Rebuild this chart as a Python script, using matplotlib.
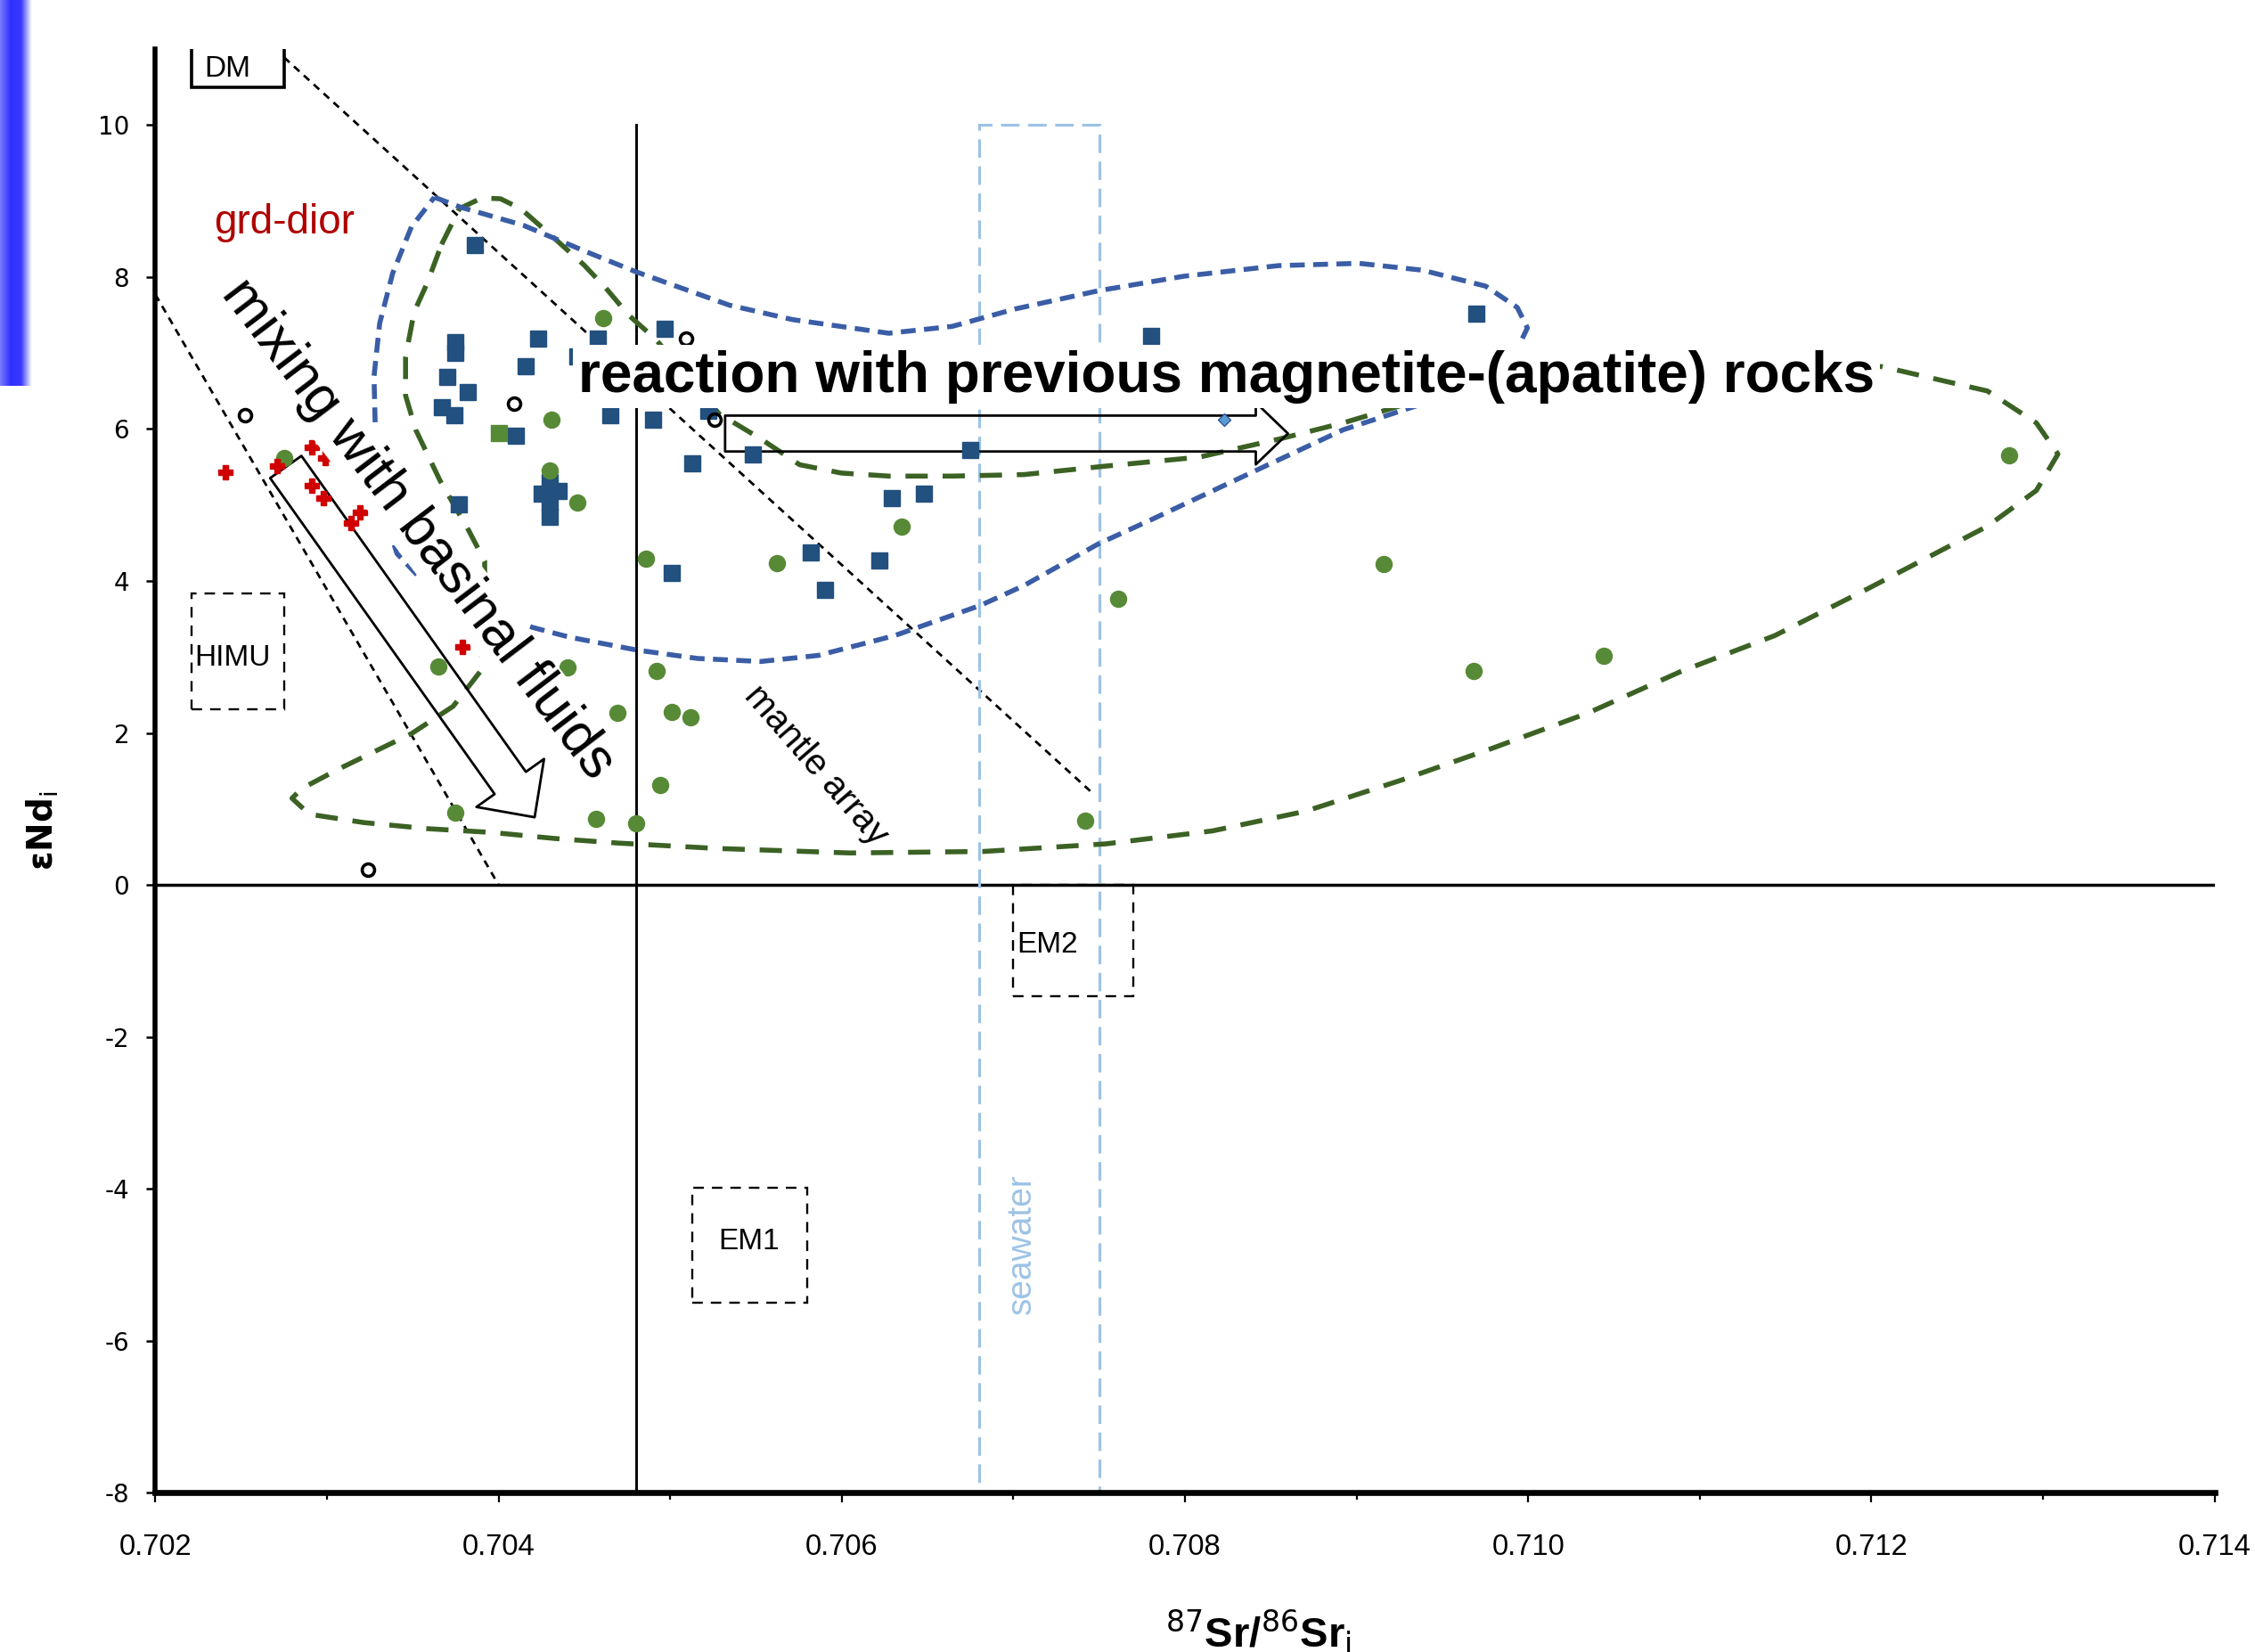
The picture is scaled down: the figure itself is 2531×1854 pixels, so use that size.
import numpy as np
import matplotlib
matplotlib.use("Agg")
import matplotlib.pyplot as plt
from matplotlib.patches import Rectangle, FancyArrowPatch, ArrowStyle
from matplotlib.colors import LinearSegmentedColormap

plt.rcParams["axes.unicode_minus"] = False

# ---- data ----
# blue squares
blue_x = [0.70386, 0.70375, 0.70375, 0.70370, 0.70382, 0.70367, 0.70374, 0.70410,
          0.70423, 0.70416, 0.70458, 0.70446, 0.70497, 0.70465, 0.70490, 0.70513,
          0.70377, 0.70425, 0.70430, 0.70435, 0.70430, 0.70430, 0.70501, 0.70522,
          0.70548, 0.70675, 0.70629, 0.70648, 0.70582, 0.70622, 0.70590, 0.70780,
          0.70970]
blue_y = [8.42, 7.14, 7.00, 6.68, 6.49, 6.29, 6.18, 5.91,
          7.19, 6.83, 7.19, 6.96, 7.32, 6.18, 6.12, 5.55,
          5.01, 5.15, 5.30, 5.18, 5.03, 4.84, 4.10, 6.24,
          5.66, 5.72, 5.09, 5.15, 4.38, 4.27, 3.88, 7.23,
          7.52]

# green circles
green_x = [0.70461, 0.70431, 0.70430, 0.70446, 0.70486, 0.70275, 0.70365, 0.70440,
           0.70492, 0.70469, 0.70501, 0.70512, 0.70494, 0.70457, 0.70480, 0.70375,
           0.70562, 0.70635, 0.70742, 0.70761, 0.70916, 0.70968, 0.71044, 0.71280]
green_y = [7.46, 6.12, 5.45, 5.03, 4.29, 5.62, 2.87, 2.86,
           2.81, 2.27, 2.28, 2.20, 1.31, 0.87, 0.81, 0.95,
           4.23, 4.72, 0.84, 3.77, 4.22, 2.81, 3.01, 5.65]

green_sq_x = [0.70400]
green_sq_y = [5.95]

# red crosses (grd-dior)
red_x = [0.70241, 0.70271, 0.70291, 0.70299, 0.70291, 0.70298, 0.70319, 0.70314, 0.70379]
red_y = [5.43, 5.51, 5.76, 5.62, 5.26, 5.09, 4.90, 4.76, 3.13]

# open circles
open_x = [0.70252, 0.70409, 0.70509, 0.70526, 0.70324]
open_y = [6.18, 6.33, 7.19, 6.12, 0.20]

diamond_x = [0.70823]
diamond_y = [6.12]

# envelope outlines
blue_env_x = [0.703626, 0.703777, 0.704145, 0.704514, 0.704799, 0.705344, 0.705712,
              0.706274, 0.706643, 0.707011, 0.707497, 0.707992, 0.708545, 0.709014,
              0.709383, 0.709752, 0.709936, 0.709995, 0.709936, 0.709726, 0.709383,
              0.708922, 0.708419, 0.707807, 0.707497, 0.707062, 0.706810, 0.706307,
              0.705863, 0.705528, 0.705159, 0.704807, 0.704413, 0.704196, 0.703860,
              0.703525, 0.703408, 0.703341, 0.703299, 0.703282, 0.703274, 0.703307,
              0.703383, 0.703492, 0.703626]
blue_env_y = [9.05, 8.92, 8.68, 8.33, 8.07, 7.63, 7.44, 7.26, 7.35, 7.58, 7.82, 8.01,
              8.15, 8.18, 8.09, 7.88, 7.60, 7.33, 7.05, 6.69, 6.33, 5.99, 5.46, 4.81,
              4.49, 3.94, 3.68, 3.28, 3.02, 2.94, 2.98, 3.09, 3.26, 3.39, 3.68, 4.08,
              4.36, 4.83, 5.40, 5.97, 6.69, 7.39, 8.05, 8.66, 9.05]

green_env_x = [0.703668, 0.703772, 0.703902, 0.704011, 0.704129, 0.704330, 0.704497,
               0.704623, 0.704757, 0.704916, 0.705101, 0.705285, 0.705528, 0.705754,
               0.705997, 0.706274, 0.706643, 0.707062, 0.707531, 0.708084, 0.708553,
               0.708922, 0.709291, 0.709894, 0.710732, 0.711570, 0.712064, 0.712676,
               0.712961, 0.713087, 0.712961, 0.712676, 0.711981, 0.711436, 0.710891,
               0.710346, 0.709793, 0.709249, 0.708704, 0.708159, 0.707539, 0.706827,
               0.706048, 0.705268, 0.704698, 0.704330, 0.703961, 0.703584, 0.703215,
               0.702897, 0.702796, 0.702855, 0.703064, 0.703291, 0.703492, 0.703735,
               0.703894, 0.703919, 0.703919, 0.703827, 0.703659, 0.703517, 0.703458,
               0.703458, 0.703508, 0.703584, 0.703668]
green_env_y = [8.43, 8.90, 9.04, 9.03, 8.90, 8.50, 8.16, 7.86, 7.50, 7.18,
               6.69, 6.20, 5.87, 5.53, 5.42, 5.38, 5.38, 5.40, 5.51, 5.63,
               5.87, 6.08, 6.33, 6.57, 6.76, 6.86, 6.82, 6.50, 6.08, 5.67,
               5.19, 4.72, 3.90, 3.28, 2.81, 2.26, 1.80, 1.37, 0.97, 0.71,
               0.54, 0.44, 0.42, 0.48, 0.55, 0.61, 0.69, 0.74, 0.82, 0.93,
               1.14, 1.27, 1.52, 1.77, 1.99, 2.35, 2.81, 3.51, 4.26, 4.66,
               5.32, 5.99, 6.44, 6.95, 7.54, 7.92, 8.43]

# reference lines
mantle1_x = [0.70275, 0.70746]
mantle1_y = [10.89, 1.21]
mantle2_x = [0.70200, 0.70400]
mantle2_y = [7.77, 0.0]
bse_x = 0.70480

# reservoir boxes: (x0, x1, y0, y1)
himu_box = (0.70221, 0.70275, 2.31, 3.83)
em2_box = (0.70700, 0.70770, -1.47, 0.0)
em1_box = (0.70513, 0.70580, -5.50, -3.99)
dm_box = (0.70221, 0.70275, 10.50, 11.4)
seawater_box = (0.70680, 0.70750, -8.0, 10.0)

# arrows (tail, tip)
mix_arrow = ((0.70276, 5.50), (0.70421, 0.89))
react_arrow = ((0.70532, 5.94), (0.70860, 5.94))

xticks = [0.702, 0.704, 0.706, 0.708, 0.710, 0.712, 0.714]
xtick_labels = ["0.702", "0.704", "0.706", "0.708", "0.710", "0.712", "0.714"]
xminor = [0.703, 0.705, 0.707, 0.709, 0.711, 0.713]
yticks = [-8, -6, -4, -2, 0, 2, 4, 6, 8, 10]

# ---- colours ----
c_blue_pt = "#22507F"
c_green_pt = "#578A36"
c_blue_env = "#3A5DA6"
c_green_env = "#3B6224"
c_red = "#D00000"
c_sea = "#9DC3E6"
sans = "Liberation Sans"

fig = plt.figure(figsize=(25.31, 18.54), dpi=100)
ax = fig.add_axes([0.0689, 0.0964, 0.9132, 0.8739])
ax.set_xlim(0.702, 0.714)
ax.set_ylim(-8, 11)

for s in ["top", "right"]:
    ax.spines[s].set_visible(False)
ax.spines["left"].set_linewidth(4.0)
ax.spines["bottom"].set_linewidth(4.8)

ax.set_xticks(xticks)
ax.set_xticklabels(xtick_labels, family=sans, fontsize=23.5)
ax.set_xticks(xminor, minor=True)
ax.set_yticks(yticks)
ax.set_yticklabels([str(v) for v in yticks], family="DejaVu Sans", fontsize=20)
ax.tick_params(axis="x", which="major", length=8, width=1.6, pad=25)
ax.tick_params(axis="x", which="minor", length=6, width=1.6)
ax.tick_params(axis="y", which="major", length=7, width=1.8, pad=14)

# reference lines
ax.axhline(0, color="black", lw=2.5, zorder=2)
ax.plot([bse_x, bse_x], [-8, 10], color="black", lw=2.1, zorder=2)
ax.plot(mantle1_x, mantle1_y, color="black", lw=2.0, dashes=(3, 2.4), zorder=2)
ax.plot(mantle2_x, mantle2_y, color="black", lw=2.0, dashes=(3, 2.4), zorder=2)

# seawater
x0, x1, y0, y1 = seawater_box
ax.add_patch(Rectangle((x0, y0), x1 - x0, y1 - y0, fill=False, ec=c_sea,
                       lw=2.3, ls=(0, (6.5, 3)), zorder=2))

# reservoir boxes
for box in [himu_box, em2_box, em1_box]:
    x0, x1, y0, y1 = box
    ax.add_patch(Rectangle((x0, y0), x1 - x0, y1 - y0, fill=False, ec="black",
                           lw=1.7, ls=(0, (5, 3.8)), zorder=2))
x0, x1, y0, y1 = dm_box
ax.add_patch(Rectangle((x0, y0), x1 - x0, y1 - y0, fill=False, ec="black", lw=2.6, zorder=2))

# envelopes
ax.plot(green_env_x, green_env_y, color=c_green_env, lw=4.0, dashes=(4.5, 3.0), zorder=3)
ax.plot(blue_env_x, blue_env_y, color=c_blue_env, lw=4.0, dashes=(3.0, 1.7), zorder=3)

# arrows
mix = FancyArrowPatch(mix_arrow[0], mix_arrow[1],
                      arrowstyle=ArrowStyle.Simple(head_length=34, head_width=67, tail_width=31),
                      mutation_scale=1, shrinkA=0, shrinkB=0, fc="none", ec="black", lw=2.0, zorder=4)
ax.add_patch(mix)
react = FancyArrowPatch(react_arrow[0], react_arrow[1],
                        arrowstyle=ArrowStyle.Simple(head_length=26, head_width=50, tail_width=29),
                        mutation_scale=1, shrinkA=0, shrinkB=0, fc="none", ec="black", lw=2.0, zorder=4)
ax.add_patch(react)

# points
ax.plot(blue_x, blue_y, ls="none", marker="s", ms=13.5, color=c_blue_pt, zorder=5)
ax.plot(green_x, green_y, ls="none", marker="o", ms=13, color=c_green_pt, zorder=5)
ax.plot(green_sq_x, green_sq_y, ls="none", marker="s", ms=13, color=c_green_pt, zorder=5)
ax.plot(red_x, red_y, ls="none", marker="P", ms=11, color=c_red, mec=c_red, zorder=5)
ax.plot(open_x, open_y, ls="none", marker="o", ms=10, mfc="none", mec="black", mew=2.6, zorder=5)
ax.plot(diamond_x, diamond_y, ls="none", marker="D", ms=7, mfc="#5B9BD5", mec="#2F5597", zorder=5)

# labels inside the plot
ax.text(0.70824, 6.69, "reaction with previous magnetite-(apatite) rocks", family=sans,
        fontsize=46, fontweight="bold", ha="center", va="center",
        bbox=dict(fc="white", ec="none", pad=4), zorder=8)
ax.text(0.70353, 4.68, "mixing with basinal fluids", fontsize=45, family=sans,
        rotation=-52.7, rotation_mode="anchor", ha="center", va="center",
        bbox=dict(fc="white", ec="none", pad=2), zorder=8)
ax.text(0.70585, 1.57, "mantle array", fontsize=29, family=sans,
        rotation=-49, rotation_mode="anchor", ha="center", va="center", zorder=6)
ax.text(0.70705, -4.72, "seawater", fontsize=28, family=sans, color=c_sea,
        rotation=90, ha="center", va="center", zorder=6)
ax.text(0.70275, 8.71, "grd-dior", fontsize=33, family=sans, color="#B00000",
        ha="center", va="center", zorder=6)
ax.text(0.70245, 2.98, "HIMU", fontsize=24, family=sans, ha="center", va="center", zorder=6)
ax.text(0.70720, -0.79, "EM2", fontsize=24, family=sans, ha="center", va="center", zorder=6)
ax.text(0.70546, -4.70, "EM1", fontsize=24, family=sans, ha="center", va="center", zorder=6)
ax.text(0.70242, 10.74, "DM", fontsize=24, family=sans, ha="center", va="center", zorder=6)

# axis titles
fig.text(0.558, 0.012, r"$^{87}$Sr/$^{86}$Sr$_{\mathrm{i}}$", family=sans, fontsize=34,
         fontweight="bold", ha="center", va="center")
fig.text(0.019, 0.497, r"εNd$_{\mathrm{i}}$", family="DejaVu Sans", fontsize=28,
         fontweight="bold", rotation=90, ha="center", va="center")

# blue slide bar at the left edge
bar = fig.add_axes([0.0, 1 - 432.6 / 1854, 35.5 / 2531, 432.6 / 1854])
bar_cmap = LinearSegmentedColormap.from_list(
    "bar", ["#7a7aff", "#2f2fff", "#3a3aff", "#ffffff"])
bar.imshow(np.linspace(0, 1, 64)[None, :], cmap=bar_cmap, aspect="auto")
bar.axis("off")

fig.savefig("out.png", dpi=100)
